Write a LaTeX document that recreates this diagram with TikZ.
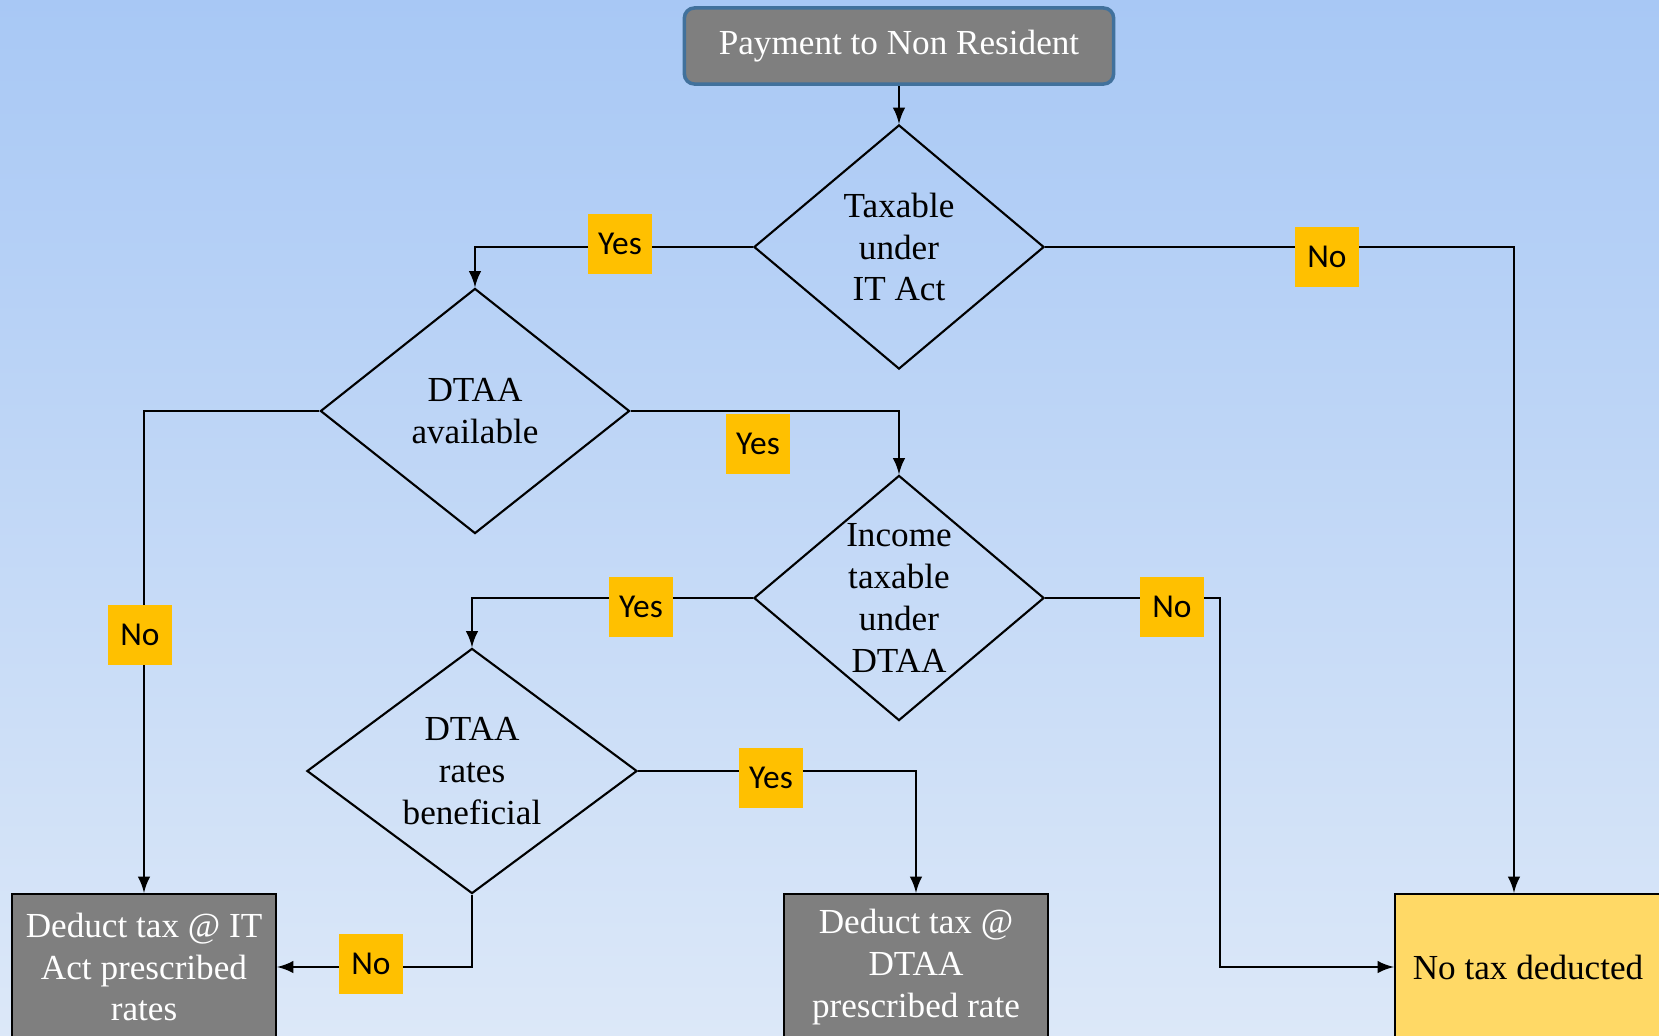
\documentclass[tikz,border=0pt]{standalone}
\usepackage{fontspec}
\setmainfont{Liberation Serif}
\newfontfamily\labelfont{Carlito}
\usetikzlibrary{shapes,arrows}

\begin{document}
\begin{tikzpicture}[x=0.01cm,y=-0.01cm,>=latex,
  flow/.style={semithick,->},
  decision/.style={diamond,draw,semithick,inner sep=0pt,shape aspect=1.2,align=center,font=\fontsize{10}{11.9}\selectfont},
  result/.style={rectangle,draw,semithick,fill=boxgray,text=white,align=center,inner sep=0pt,minimum width=2.64cm,minimum height=1.46cm,font=\fontsize{10}{11.9}\selectfont},
  answer/.style={fill=labelgold,inner sep=0pt,minimum width=0.63cm,minimum height=0.59cm,font=\labelfont\fontsize{9.5}{11}\selectfont}]

\definecolor{bgtop}{RGB}{168,200,245}
\definecolor{bgbot}{RGB}{220,232,248}
\definecolor{boxgray}{RGB}{127,127,127}
\definecolor{edgeblue}{RGB}{65,113,156}
\definecolor{labelgold}{RGB}{255,192,0}
\definecolor{nonegold}{RGB}{255,217,102}

\useasboundingbox (0,0) rectangle (1659,1036);
\shade [top color=bgtop,bottom color=bgbot] (0,0) rectangle (1659,1036);

\node (start) at (899,46) [rectangle,rounded corners=0.1cm,fill=boxgray,draw=edgeblue,line width=1pt,text=white,minimum width=4.29cm,minimum height=0.76cm,font=\fontsize{10}{11.9}\selectfont] {Payment to Non Resident};

\node (tax) at (899,247) [decision,minimum width=2.9cm,minimum height=2.44cm] {Taxable\\under\\IT Act};
\node (dtaa) at (475,411) [decision,minimum width=3.09cm,minimum height=2.45cm] {DTAA\\available};
\node (income) at (899,598) [decision,minimum width=2.9cm,minimum height=2.45cm] {Income\\taxable\\under\\DTAA};
\node (rates) at (472,771) [decision,minimum width=3.3cm,minimum height=2.45cm] {DTAA\\rates\\beneficial};

\node (itact) at (144,967) [result] {Deduct tax @ IT\\Act prescribed\\rates};
\node (dtaarate) at (916,967) [result] {Deduct tax @\\DTAA\\prescribed rate};
\node (none) at (1528,967) [result,fill=nonegold,text=black,minimum width=2.66cm] {No tax deducted};

\coordinate (nocol) at (1514,247);
\coordinate (bend) at (1220,598);

\draw [flow] (start) -- (tax);
\draw [flow] (tax.west) -| (dtaa.north);
\draw [flow] (tax.east) -- (nocol) -- (nocol |- none.north);
\draw [flow] (dtaa.west) -| (itact.north);
\draw [flow] (dtaa.east) -| (income.north);
\draw [flow] (income.west) -| (rates.north);
\draw [flow] (income.east) -- (bend) |- (none.west);
\draw [flow] (rates.east) -| (dtaarate.north);
\draw [flow] (rates.south) |- (itact.east);

\node (yes1) at (620,244) [answer] {Yes};
\node (no1) at (1327,257) [answer] {No};
\node (yes2) at (758,444) [answer] {Yes};
\node (no2) at (140,635) [answer] {No};
\node (yes3) at (641,607) [answer] {Yes};
\node (no3) at (1172,607) [answer] {No};
\node (yes4) at (771,778) [answer] {Yes};
\node (no4) at (371,964) [answer] {No};

\end{tikzpicture}
\end{document}
